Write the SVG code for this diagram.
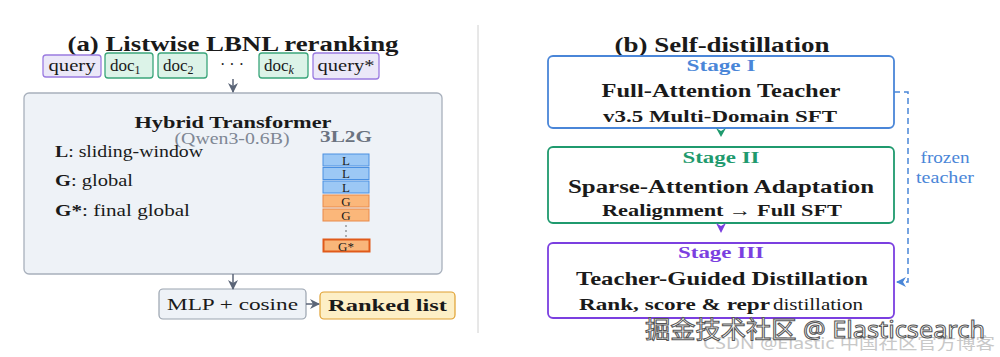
<svg xmlns="http://www.w3.org/2000/svg" width="1000" height="357" viewBox="0 0 1000 357">
<style>
.serif{font-family:"Liberation Serif","DejaVu Serif",serif;fill:#1a1a1a}
.b{font-weight:bold}
.tok{font-size:17px}
.qbox{fill:#ebe8f8;stroke:#9b7be0;stroke-width:1.3}
.dbox{fill:#dcf3e8;stroke:#3aa57a;stroke-width:1.3}
.Lcell{fill:#9cc8f5;stroke:#4a90e2;stroke-width:1}
.Gcell{fill:#fbb77a;stroke:#e8894a;stroke-width:1}
.cell{font-size:13px}
.conn{fill:none;stroke:#5b6577;stroke-width:1.5}
</style>
<defs>
<marker id="ah" markerWidth="10" markerHeight="10" refX="9" refY="5" orient="auto" markerUnits="userSpaceOnUse"><path d="M0,0 L10,5 L0,10 L3,5 z" fill="#5b6577"/></marker>
<marker id="ahb" markerWidth="10" markerHeight="10" refX="9" refY="5" orient="auto" markerUnits="userSpaceOnUse"><path d="M0,0 L10,5 L0,10 L3,5 z" fill="#4a86d8"/></marker>
</defs>

<!-- divider -->
<line x1="478" y1="25" x2="478" y2="333" stroke="#d0d0d0" stroke-width="1"/>

<!-- titles -->
<text class="serif b" x="233" y="51" font-size="20" text-anchor="middle" textLength="331" lengthAdjust="spacingAndGlyphs">(a) Listwise LBNL reranking</text>
<text class="serif b" x="722" y="52" font-size="20" text-anchor="middle" textLength="215" lengthAdjust="spacingAndGlyphs">(b) Self-distillation</text>

<!-- tokens -->
<g id="tok-query">
<rect class="qbox" x="43" y="55" width="58" height="22" rx="3"/>
<text class="serif tok" x="72" y="71" text-anchor="middle" textLength="47" lengthAdjust="spacingAndGlyphs">query</text>
</g>
<g id="tok-doc1">
<rect class="dbox" x="105" y="53" width="48" height="25" rx="3"/>
<text class="serif tok" x="110" y="71">doc<tspan font-size="12" dy="3">1</tspan></text>
</g>
<g id="tok-doc2">
<rect class="dbox" x="158" y="53" width="49" height="25" rx="3"/>
<text class="serif tok" x="163" y="71">doc<tspan font-size="12" dy="3">2</tspan></text>
</g>
<text class="serif" x="232" y="70" font-size="16" text-anchor="middle">· · ·</text>
<g id="tok-dock">
<rect class="dbox" x="259" y="53" width="49" height="25" rx="3"/>
<text class="serif tok" x="264" y="71">doc<tspan font-size="12" font-style="italic" dy="3">k</tspan></text>
</g>
<g id="tok-queryst">
<rect class="qbox" x="313" y="53" width="66" height="26" rx="3"/>
<text class="serif tok" x="346" y="71" text-anchor="middle" textLength="57" lengthAdjust="spacingAndGlyphs">query*</text>
</g>

<!-- Hybrid Transformer -->
<g id="transformer">
<rect x="24" y="93" width="418" height="181" rx="5" fill="#eef2f7" stroke="#a8b0bc" stroke-width="1.3"/>
<text class="serif b" x="233" y="128" font-size="17" text-anchor="middle" textLength="197" lengthAdjust="spacingAndGlyphs">Hybrid Transformer</text>
<text class="serif" x="232" y="144" font-size="16" text-anchor="middle" style="fill:#7f8794" textLength="115" lengthAdjust="spacingAndGlyphs">(Qwen3-0.6B)</text>
<text class="serif b" x="346" y="142" font-size="16" text-anchor="middle" style="fill:#6b7380" textLength="52" lengthAdjust="spacingAndGlyphs">3L2G</text>
<text class="serif" x="55" y="157" font-size="16" textLength="148" lengthAdjust="spacingAndGlyphs"><tspan font-weight="bold">L</tspan>: sliding-window</text>
<text class="serif" x="55" y="186" font-size="16" textLength="78" lengthAdjust="spacingAndGlyphs"><tspan font-weight="bold">G</tspan>: global</text>
<text class="serif" x="55" y="216" font-size="16" textLength="135" lengthAdjust="spacingAndGlyphs"><tspan font-weight="bold">G*</tspan>: final global</text>
<rect class="Lcell" x="323" y="154" width="46" height="12"/>
<text class="serif cell" x="346" y="164.5" text-anchor="middle">L</text>
<rect class="Lcell" x="323" y="167.5" width="46" height="12"/>
<text class="serif cell" x="346" y="178" text-anchor="middle">L</text>
<rect class="Lcell" x="323" y="181" width="46" height="12"/>
<text class="serif cell" x="346" y="191.5" text-anchor="middle">L</text>
<rect class="Gcell" x="323" y="195" width="46" height="12"/>
<text class="serif cell" x="346" y="205.5" text-anchor="middle">G</text>
<rect class="Gcell" x="323" y="209" width="46" height="12"/>
<text class="serif cell" x="346" y="219.5" text-anchor="middle">G</text>
<circle cx="346" cy="226" r="0.7" fill="#333"/>
<circle cx="346" cy="231" r="0.7" fill="#333"/>
<circle cx="346" cy="236" r="0.7" fill="#333"/>
<rect x="323.5" y="239.5" width="46" height="12" fill="#f9b67a" stroke="#e05a1a" stroke-width="2"/>
<text class="serif cell" x="346" y="250.5" text-anchor="middle">G*</text>
</g>

<g id="mlp">
<rect x="159" y="289" width="147" height="30" rx="4" fill="#eef2f7" stroke="#9aa3af" stroke-width="1.2"/>
<text class="serif" x="232.5" y="310" font-size="17" text-anchor="middle" textLength="131" lengthAdjust="spacingAndGlyphs">MLP + cosine</text>
</g>
<g id="ranked">
<rect x="320" y="292" width="135" height="27" rx="4" fill="#fdefc6" stroke="#e0a030" stroke-width="1.2"/>
<text class="serif b" x="387.5" y="311" font-size="17" text-anchor="middle" textLength="119" lengthAdjust="spacingAndGlyphs">Ranked list</text>
</g>

<!-- Stages -->
<g id="stage1">
<rect x="548" y="56" width="346" height="72" rx="5" fill="#ffffff" stroke="#4a86d8" stroke-width="1.8"/>
<text class="serif b" x="721" y="71" font-size="16" text-anchor="middle" style="fill:#4a86d8" textLength="69" lengthAdjust="spacingAndGlyphs">Stage I</text>
<text class="serif b" x="721" y="97" font-size="19" text-anchor="middle" textLength="239" lengthAdjust="spacingAndGlyphs">Full-Attention Teacher</text>
<text class="serif b" x="720" y="122" font-size="17" text-anchor="middle" textLength="234" lengthAdjust="spacingAndGlyphs">v3.5 Multi-Domain SFT</text>
</g>
<g id="stage2">
<rect x="548" y="147" width="346" height="76" rx="5" fill="#ffffff" stroke="#1f9a6e" stroke-width="1.8"/>
<text class="serif b" x="721" y="163" font-size="16" text-anchor="middle" style="fill:#1f9a6e" textLength="77" lengthAdjust="spacingAndGlyphs">Stage II</text>
<text class="serif b" x="721" y="193" font-size="19" text-anchor="middle" textLength="306" lengthAdjust="spacingAndGlyphs">Sparse-Attention Adaptation</text>
<text class="serif b" x="722" y="216" font-size="17" text-anchor="middle" textLength="240" lengthAdjust="spacingAndGlyphs">Realignment → Full SFT</text>
</g>
<g id="stage3">
<rect x="548" y="243" width="346" height="75" rx="5" fill="#ffffff" stroke="#7b3fe0" stroke-width="1.8"/>
<text class="serif b" x="721" y="258" font-size="16" text-anchor="middle" style="fill:#7b3fe0" textLength="86" lengthAdjust="spacingAndGlyphs">Stage III</text>
<text class="serif b" x="722" y="285" font-size="19" text-anchor="middle" textLength="292" lengthAdjust="spacingAndGlyphs">Teacher-Guided Distillation</text>
<text class="serif" x="579" y="310" font-size="16"><tspan font-weight="bold" textLength="191" lengthAdjust="spacingAndGlyphs">Rank, score &amp; repr</tspan><tspan x="773" textLength="90" lengthAdjust="spacingAndGlyphs">distillation</tspan></text>
</g>

<g id="frozen-label">
<text class="serif" x="945" y="163" font-size="16" text-anchor="middle" style="fill:#4a86d8" textLength="49" lengthAdjust="spacingAndGlyphs">frozen</text>
<text class="serif" x="945" y="183" font-size="16" text-anchor="middle" style="fill:#4a86d8" textLength="58" lengthAdjust="spacingAndGlyphs">teacher</text>
</g>

<!-- connectors -->
<g id="connectors">
<line class="conn" x1="233" y1="79" x2="233" y2="92" marker-end="url(#ah)"/>
<line class="conn" x1="233" y1="274" x2="233" y2="289" marker-end="url(#ah)"/>
<line class="conn" x1="306" y1="304" x2="319" y2="304" marker-end="url(#ah)"/>
<path d="M716,128 L721,137 L726,128 L721,131 z" fill="#1f9a6e"/>
<path d="M716,223 L721,233 L726,223 L721,226 z" fill="#7b3fe0"/>
<path d="M894,92 L908,92 L908,282 L897,282" fill="none" stroke="#4a86d8" stroke-width="1.5" stroke-dasharray="6,4" marker-end="url(#ahb)"/>
</g>

<!-- watermark -->
<text x="703" y="349" font-size="16" font-family="'Noto Sans','Noto Sans CJK SC',sans-serif" fill="#c8c8c8" textLength="292" lengthAdjust="spacingAndGlyphs">CSDN @Elastic 中国社区官方博客</text>
<text x="645" y="338" font-size="24" font-family="'Noto Sans','Noto Sans CJK SC',sans-serif" fill="#ffffff" stroke="#555555" stroke-width="1" textLength="340" lengthAdjust="spacingAndGlyphs">掘金技术社区 @ Elasticsearch</text>
</svg>
